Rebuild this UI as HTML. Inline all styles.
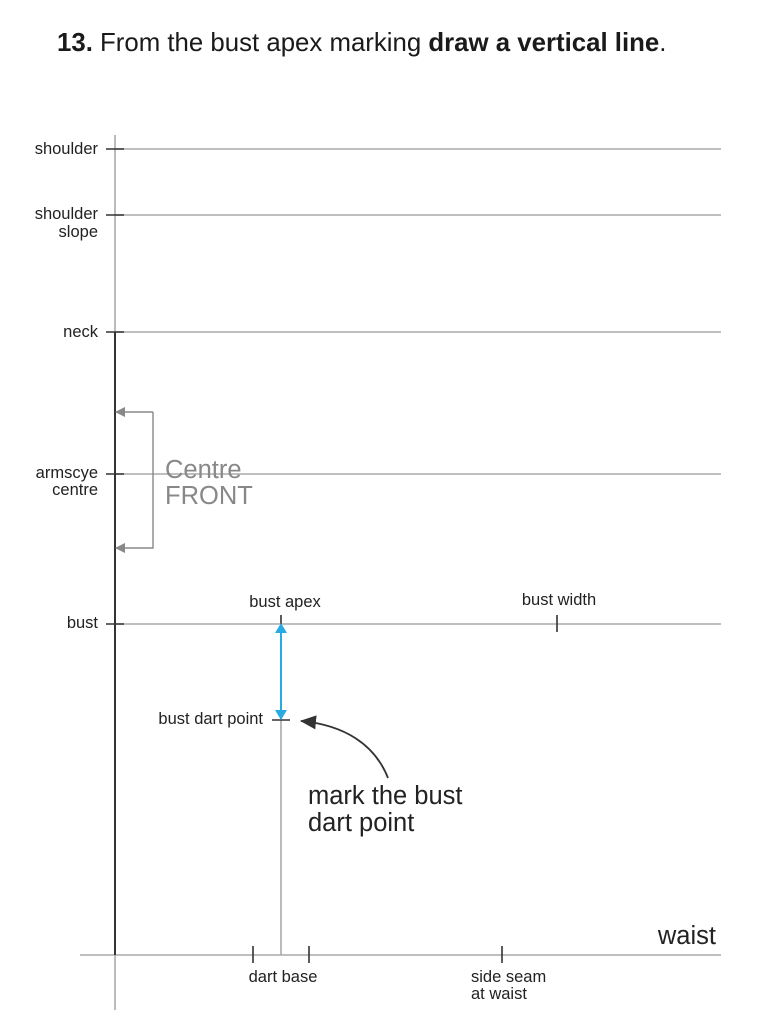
<!DOCTYPE html>
<html><head><meta charset="utf-8"><style>
html,body{margin:0;padding:0;background:#fff;width:768px;height:1024px;overflow:hidden}
svg{display:block}
text{font-family:"Liberation Sans",Arial,sans-serif}
</style></head><body>
<svg width="768" height="1024" viewBox="0 0 768 1024" xmlns="http://www.w3.org/2000/svg">
<defs>
<marker id="g" markerWidth="10" markerHeight="10" refX="9" refY="5" orient="auto" markerUnits="userSpaceOnUse"><path d="M0,0 L10,5 L0,10 z" fill="#888"/></marker>
<marker id="b" markerWidth="10" markerHeight="12" refX="9" refY="6" orient="auto" markerUnits="userSpaceOnUse"><path d="M0,0 L10,6 L0,12 z" fill="#29aae2"/></marker>
<marker id="k" markerWidth="16" markerHeight="14" refX="15" refY="7" orient="auto" markerUnits="userSpaceOnUse"><path d="M0,0 L16,7 L0,14 z" fill="#333"/></marker>
</defs>
<text x="57" y="51" font-size="25.8" fill="#1a1a1a"><tspan font-weight="bold">13.</tspan> From the bust apex marking <tspan font-weight="bold">draw a vertical line</tspan>.</text>
<g stroke="#aaa" stroke-width="1.6" fill="none">
<line x1="115" y1="149" x2="721" y2="149"/>
<line x1="115" y1="215" x2="721" y2="215"/>
<line x1="115" y1="332" x2="721" y2="332"/>
<line x1="115" y1="474" x2="721" y2="474"/>
<line x1="115" y1="624" x2="721" y2="624"/>
<line x1="80" y1="955" x2="721" y2="955"/>
<line x1="115" y1="135" x2="115" y2="332"/>
<line x1="115" y1="955" x2="115" y2="1010"/>
<line x1="281" y1="720" x2="281" y2="955"/>
</g>
<line x1="115" y1="332" x2="115" y2="955" stroke="#333" stroke-width="2"/>
<g stroke="#333" stroke-width="1.6">
<line x1="106" y1="149" x2="124" y2="149"/>
<line x1="106" y1="215" x2="124" y2="215"/>
<line x1="106" y1="332" x2="124" y2="332"/>
<line x1="106" y1="474" x2="124" y2="474"/>
<line x1="106" y1="624" x2="124" y2="624"/>
<line x1="281" y1="615" x2="281" y2="632"/>
<line x1="557" y1="615" x2="557" y2="632"/>
<line x1="272" y1="720" x2="290" y2="720"/>
<line x1="253" y1="946" x2="253" y2="963"/>
<line x1="309" y1="946" x2="309" y2="963"/>
<line x1="502" y1="946" x2="502" y2="963"/>
</g>
<path d="M153,412 L153,548 L116,548" stroke="#888" stroke-width="1.4" fill="none" marker-end="url(#g)"/>
<path d="M153,412 L116,412" stroke="#888" stroke-width="1.4" fill="none" marker-end="url(#g)"/>
<line x1="281" y1="680" x2="281" y2="624" stroke="#29aae2" stroke-width="2" marker-end="url(#b)"/>
<line x1="281" y1="660" x2="281" y2="719" stroke="#29aae2" stroke-width="2" marker-end="url(#b)"/>
<path d="M388,778 C375,745 345,725 301,721" stroke="#333" stroke-width="1.8" fill="none" marker-end="url(#k)"/>
<g font-size="16.5" fill="#222" text-anchor="end">
<text x="98" y="154">shoulder</text>
<text x="98" y="219">shoulder</text>
<text x="98" y="237">slope</text>
<text x="98" y="337">neck</text>
<text x="98" y="478">armscye</text>
<text x="98" y="495">centre</text>
<text x="98" y="628">bust</text>
<text x="263" y="724">bust dart point</text>
</g>
<g font-size="16.5" fill="#222" text-anchor="middle">
<text x="285" y="607">bust apex</text>
<text x="559" y="605">bust width</text>
<text x="283" y="982">dart base</text>
</g>
<g font-size="16.5" fill="#222">
<text x="471" y="982">side seam</text>
<text x="471" y="999">at waist</text>
</g>
<text x="165" y="478" font-size="25.5" fill="#888">Centre</text>
<text x="165" y="504" font-size="25.5" fill="#888">FRONT</text>
<text x="308" y="804" font-size="25.5" fill="#222">mark the bust</text>
<text x="308" y="831" font-size="25.5" fill="#222">dart point</text>
<text x="716" y="944" font-size="25.5" fill="#222" text-anchor="end">waist</text>
</svg>
</body></html>
